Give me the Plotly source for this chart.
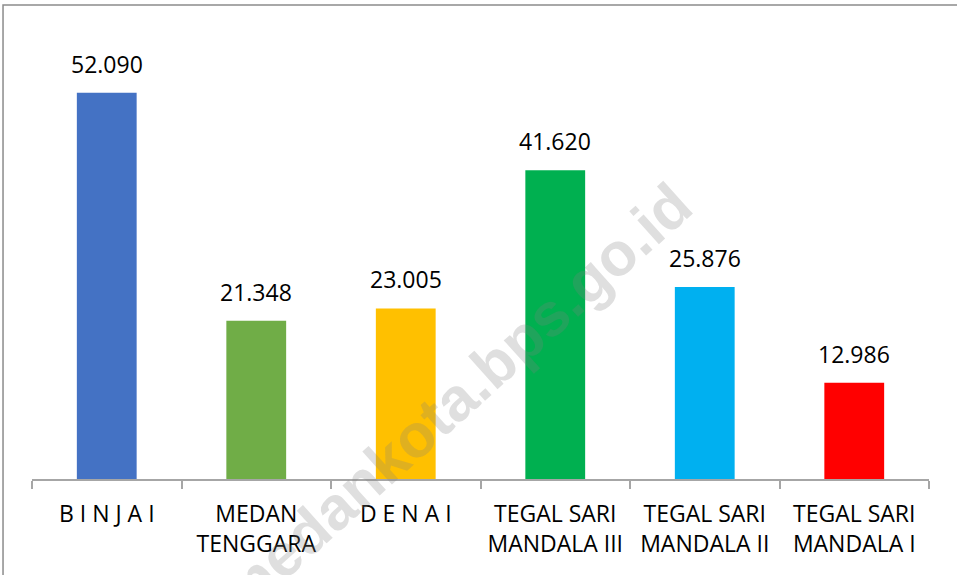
import plotly.graph_objects as go

# kecamatan / kelurahan labels as they appear on the x axis
categories = [
    "B I N J A I",
    "MEDAN<br>TENGGARA",
    "D E N A I",
    "TEGAL SARI<br>MANDALA III",
    "TEGAL SARI<br>MANDALA II",
    "TEGAL SARI<br>MANDALA I",
]
values = [52090, 21348, 23005, 41620, 25876, 12986]
bar_colors = ["#4472C4", "#70AD47", "#FFC000", "#00B050", "#00B0F0", "#FF0000"]

watermark = "medankota.bps.go.id"
font_family = "Open Sans, Liberation Sans, Arial, sans-serif"


def fmt_id(v):
    # Indonesian thousands separator
    return f"{v:,}".replace(",", ".")


fig = go.Figure()
fig.add_trace(go.Bar(
    x=categories,
    y=values,
    marker=dict(color=bar_colors, line=dict(width=0)),
    width=0.4,
    hoverinfo="x+y",
))

annotations = [
    dict(
        x=cat, y=val, xref="x", yref="y",
        text=fmt_id(val),
        showarrow=False,
        yanchor="middle",
        yshift=29,
        font=dict(family=font_family, size=23, color="#000000"),
    )
    for cat, val in zip(categories, values)
]
annotations.append(dict(
    x=0.472, y=0.18, xref="paper", yref="paper",
    xanchor="center", yanchor="middle",
    text="<b>" + watermark + "</b>",
    showarrow=False,
    textangle=-42,
    font=dict(family="Liberation Sans, Arial, sans-serif", size=61,
              color="rgba(128,128,128,0.25)"),
))

fig.update_layout(
    width=957,
    height=575,
    margin=dict(l=32, r=28, t=34, b=96),
    paper_bgcolor="white",
    plot_bgcolor="white",
    showlegend=False,
    bargap=0.6,
    font=dict(family=font_family, size=23, color="#000000"),
    xaxis=dict(
        showline=True,
        linecolor="#A6A6A6",
        linewidth=1.5,
        ticks="outside",
        tickson="boundaries",
        ticklen=8,
        tickcolor="#A6A6A6",
        tickwidth=1.5,
        ticklabelstandoff=14,
        tickfont=dict(family=font_family, size=23, color="#000000"),
        showgrid=False,
        zeroline=False,
        fixedrange=True,
    ),
    yaxis=dict(
        range=[0, 60000],
        visible=False,
        showgrid=False,
        zeroline=False,
        fixedrange=True,
    ),
    shapes=[
        # chart border (cut off on the right and bottom, as in the source image)
        dict(
            type="rect", xref="paper", yref="paper",
            x0=-0.0323, x1=1.2, y0=-0.4, y1=1.0652,
            line=dict(color="#8C8C8C", width=1.5),
            fillcolor="rgba(0,0,0,0)",
            layer="below",
        )
    ],
    annotations=annotations,
)

# drop the browser's default body margin so the figure sits at the page corner
fig.write_html(
    "out.html",
    config={"displayModeBar": False},
    post_script="document.body.style.margin='0px';",
)
